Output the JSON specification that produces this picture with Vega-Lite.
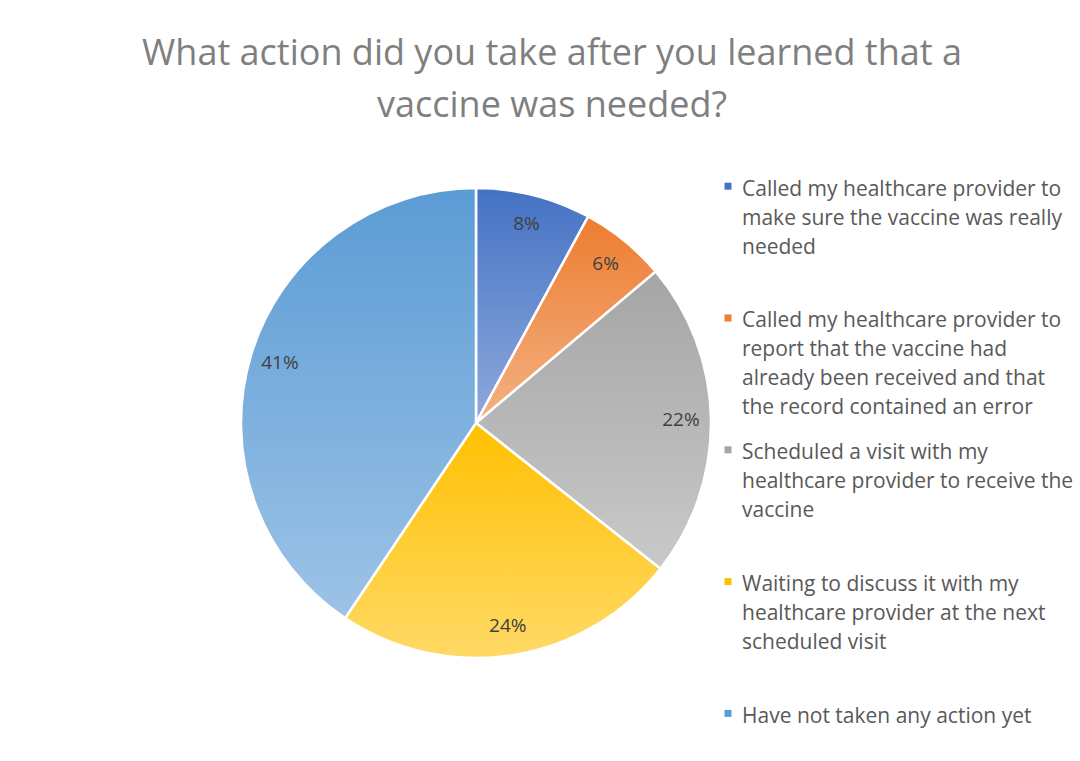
{
  "$schema": "https://vega.github.io/schema/vega-lite/v6.json",
  "width": 470,
  "height": 470,
  "autosize": {"type": "none"},
  "padding": {"left": 241, "top": 188, "right": 369, "bottom": 103},
  "background": "white",
  "title": {
    "text": ["What action did you take after you learned that a", "vaccine was needed?"],
    "font": "Open Sans",
    "fontSize": 36,
    "fontWeight": "normal",
    "color": "#7f7f7f",
    "anchor": "middle",
    "frame": "group",
    "dx": 76,
    "offset": 43,
    "lineHeight": 52
  },
  "data": {
    "values": [
      {"k": 1, "cat": "Called my healthcare provider to\nmake sure the vaccine was really\nneeded", "v": 0.08},
      {"k": 2, "cat": "Called my healthcare provider to\nreport that the vaccine had\nalready been received and that\nthe record contained an error", "v": 0.06},
      {"k": 3, "cat": "Scheduled a visit with my\nhealthcare provider to receive the\nvaccine", "v": 0.22},
      {"k": 4, "cat": "Waiting to discuss it with my\nhealthcare provider at the next\nscheduled visit", "v": 0.24},
      {"k": 5, "cat": "Have not taken any action yet", "v": 0.41}
    ]
  },
  "encoding": {
    "theta": {"field": "v", "type": "quantitative", "stack": true},
    "order": {"field": "k", "type": "quantitative"}
  },
  "layer": [
    {
      "mark": {"type": "arc"},
      "encoding": {
        "color": {
          "field": "cat",
          "type": "nominal",
          "sort": {"field": "k", "op": "min"},
          "scale": {"range": ["#4472C4", "#ED7D31", "#A5A5A5", "#FFC000", "#5B9BD5"]},
          "legend": {
            "title": null,
            "orient": "none",
            "legendX": 476.5,
            "legendY": -20,
            "padding": 0,
            "gridAlign": "all",
            "rowPadding": 12.8,
            "symbolType": "M-1,1.2H1V3.2H-1Z",
            "symbolSize": 49,
            "symbolStrokeWidth": 0,
            "labelFont": "Open Sans",
            "labelFontSize": 21,
            "labelColor": "#595959",
            "labelBaseline": "top",
            "labelOffset": 3.5,
            "labelLimit": 400,
            "labelExpr": "split(datum.label, '\\n')"
          }
        }
      }
    },
    {
      "mark": {"type": "arc", "stroke": "white", "strokeWidth": 2.5},
      "encoding": {
        "detail": {"field": "cat"},
        "fill": {
          "condition": [
            {"test": "datum.k == 1", "value": {"gradient": "linear", "x1": 0, "y1": 0, "x2": 0, "y2": 1, "stops": [{"offset": 0, "color": "#4472C4"}, {"offset": 1, "color": "#8FAADC"}]}},
            {"test": "datum.k == 2", "value": {"gradient": "linear", "x1": 0, "y1": 0, "x2": 0, "y2": 1, "stops": [{"offset": 0, "color": "#ED7D31"}, {"offset": 1, "color": "#F4B183"}]}},
            {"test": "datum.k == 3", "value": {"gradient": "linear", "x1": 0, "y1": 0, "x2": 0, "y2": 1, "stops": [{"offset": 0, "color": "#A5A5A5"}, {"offset": 1, "color": "#C9C9C9"}]}},
            {"test": "datum.k == 4", "value": {"gradient": "linear", "x1": 0, "y1": 0, "x2": 0, "y2": 1, "stops": [{"offset": 0, "color": "#FFC000"}, {"offset": 1, "color": "#FFD966"}]}}
          ],
          "value": {"gradient": "linear", "x1": 0, "y1": 0, "x2": 0, "y2": 1, "stops": [{"offset": 0, "color": "#5B9BD5"}, {"offset": 1, "color": "#9DC3E6"}]}
        }
      }
    },
    {
      "mark": {"type": "text", "radius": 205, "font": "Open Sans", "fontSize": 19, "fill": "#404040"},
      "encoding": {
        "detail": {"field": "cat"},
        "text": {"field": "v", "type": "quantitative", "format": ".0%"}
      }
    }
  ],
  "config": {
    "view": {"stroke": null},
    "style": {"guide-label": {"lineHeight": 29}}
  }
}
